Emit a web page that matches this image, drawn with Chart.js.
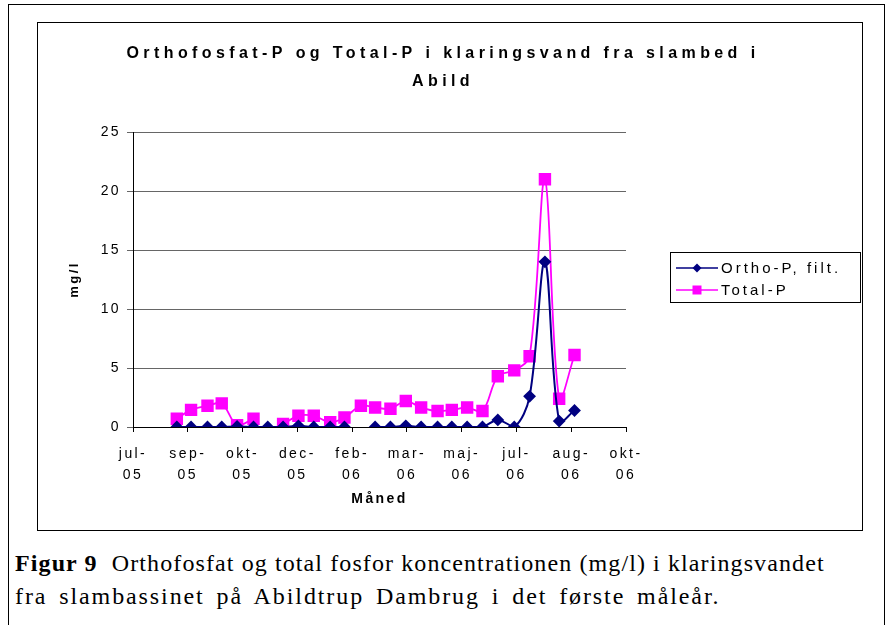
<!DOCTYPE html>
<html>
<head>
<meta charset="utf-8">
<script src="https://cdn.jsdelivr.net/npm/chart.js@4.4.1/dist/chart.umd.min.js"></script>
<style>
  body { margin: 0; background: #fff; width: 890px; height: 625px; position: relative; overflow: hidden; }
  #outer { position: absolute; left: 8px; top: 4px; width: 877px; height: 640px; border: 1.5px solid #000; box-sizing: border-box; }
  #inner { position: absolute; left: 37px; top: 22px; width: 826px; height: 509px; border: 1px solid #000; box-sizing: border-box; }
  #wrap { position: absolute; left: 37px; top: 22px; width: 825px; height: 508px; }
  .cap { position: absolute; left: 15px; font-family: "Liberation Serif", "Times New Roman", serif; font-size: 24px; color: #000; white-space: nowrap; }
</style>
</head>
<body>
<div id="outer"></div>
<div id="inner"></div>
<div id="wrap"><canvas id="c" width="825" height="508"></canvas></div>
<div class="cap" style="top:550px; letter-spacing:1.1px"><b>Figur 9</b>&nbsp; Orthofosfat og total fosfor koncentrationen (mg/l) i klaringsvandet</div>
<div class="cap" style="top:583px; letter-spacing:1.9px; word-spacing:4px">fra slambassinet på Abildtrup Dambrug i det første måleår.</div>
<script>
// days after 20 Jul 2005 (axis start), one per sample
const sampleDays = [40, 53, 68, 81, 95, 110, 123, 137, 151, 165, 180, 193, 208, 221, 235, 249, 263, 278, 291, 305, 319, 333, 348, 362, 376, 389, 403];
const orthoP = [0, 0, 0, 0, 0.05, 0, 0, 0, 0.1, 0, 0, 0, null, 0, 0, 0.1, 0, 0, 0, 0, 0, 0.6, 0, 2.6, 14.0, 0.5, 1.4];
const totalP = [0.7, 1.45, 1.8, 2.0, 0.15, 0.7, null, 0.25, 0.95, 0.95, 0.4, 0.8, 1.8, 1.65, 1.55, 2.2, 1.65, 1.35, 1.45, 1.65, 1.35, 4.3, 4.8, 6.0, 21.0, 2.4, 6.1];
const xTickLabels = ['jul-05', 'sep-05', 'okt-05', 'dec-05', 'feb-06', 'mar-06', 'maj-06', 'jul-06', 'aug-06', 'okt-06'];
const seriesNames = ['Ortho-P, filt.', 'Total-P'];
const titleLines = ['Orthofosfat-P og Total-P i klaringsvand fra slambed i', 'Abild'];

const FONT = '"Liberation Sans", Arial, sans-serif';
const toPoints = vals => vals.map((v, i) => ({ x: sampleDays[i], y: v }));

// title + boxed legend drawn by hand (legend needs line + marker swatch)
const extras = {
    id: 'extras',
    beforeDraw(chart) {
        chart.ctx.letterSpacing = '2.4px';
    },
    afterDraw(chart) {
        const ctx = chart.ctx;
        ctx.save();
        ctx.fillStyle = '#000';
        ctx.textAlign = 'center';
        ctx.textBaseline = 'middle';
        ctx.font = 'bold 16px ' + FONT;
        ctx.letterSpacing = '4.4px';
        ctx.fillText(titleLines[0], 406, 32);
        ctx.fillText(titleLines[1], 406, 60);

        // legend
        ctx.letterSpacing = '3px';
        ctx.strokeStyle = '#000';
        ctx.lineWidth = 1;
        ctx.strokeRect(633.5, 230.5, 190, 50);
        ctx.font = '15px ' + FONT;
        ctx.textAlign = 'left';
        chart.data.datasets.forEach((ds, i) => {
            const y = 246 + i * 22;
            ctx.strokeStyle = ds.borderColor;
            ctx.lineWidth = 1.5;
            ctx.beginPath();
            ctx.moveTo(639, y);
            ctx.lineTo(681, y);
            ctx.stroke();
            ctx.fillStyle = ds.pointBackgroundColor;
            ctx.beginPath();
            if (ds.pointStyle === 'rectRot') {
                ctx.moveTo(660, y - 4.5); ctx.lineTo(664.5, y); ctx.lineTo(660, y + 4.5); ctx.lineTo(655.5, y);
            } else {
                ctx.rect(655.5, y - 4.5, 9, 9);
            }
            ctx.fill();
            ctx.fillStyle = '#000';
            ctx.fillText(ds.label, 684, y + 1);
        });
        ctx.restore();
    }
};

new Chart(document.getElementById('c'), {
    type: 'line',
    data: {
        datasets: [
            {
                label: seriesNames[0],
                data: toPoints(orthoP),
                borderColor: '#000080',
                pointBackgroundColor: '#000080',
                pointBorderColor: '#000080',
                pointStyle: 'rectRot',
                pointRadius: 5,
                borderWidth: 2,
                tension: 0.35,
                spanGaps: false
            },
            {
                label: seriesNames[1],
                data: toPoints(totalP),
                borderColor: '#FF00FF',
                pointBackgroundColor: '#FF00FF',
                pointBorderColor: '#FF00FF',
                pointStyle: 'rect',
                pointRadius: 7.5,
                borderWidth: 1.8,
                tension: 0.35,
                spanGaps: false
            }
        ]
    },
    options: {
        responsive: false,
        animation: false,
        layout: { padding: { left: 20, top: 110, right: 236, bottom: 10 } },
        plugins: {
            legend: { display: false },
            title: { display: false },
            tooltip: { enabled: false }
        },
        scales: {
            x: {
                type: 'linear',
                min: 0,
                max: 450,
                afterFit: s => { s.height = 93; },
                afterBuildTicks: s => { s.ticks = xTickLabels.map((_, i) => ({ value: i * 50 })); },
                ticks: {
                    autoSkip: false,
                    maxRotation: 0,
                    color: '#000',
                    font: { family: FONT, size: 14, lineHeight: 1.55 },
                    padding: 11,
                    callback: (v, i) => {
                        const [m, y] = xTickLabels[i].split('-');
                        return [m + '-', y];
                    }
                },
                grid: { drawOnChartArea: false, color: '#000', tickLength: 5 },
                border: { color: '#000', width: 1 },
                title: {
                    display: true,
                    text: 'Måned',
                    color: '#000',
                    font: { family: FONT, size: 14, weight: 'bold' },
                    padding: { top: 0, bottom: 12 }
                }
            },
            y: {
                min: 0,
                max: 25,
                afterFit: s => { s.width = 76; },
                ticks: {
                    stepSize: 5,
                    color: '#000',
                    font: { family: FONT, size: 14 },
                    padding: 6
                },
                grid: { color: '#666', tickLength: 6 },
                border: { color: '#000', width: 1 },
                title: {
                    display: true,
                    text: 'mg/l',
                    color: '#000',
                    font: { family: FONT, size: 13, weight: 'bold' },
                    padding: { top: 10, bottom: 0 }
                }
            }
        }
    },
    plugins: [extras]
});
</script>
</body>
</html>
